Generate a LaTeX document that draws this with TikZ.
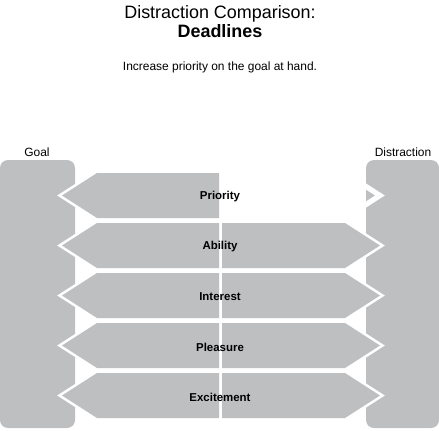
\documentclass[tikz,border=0pt]{standalone}
\usepackage{fontspec}
\setmainfont{Liberation Sans}
\definecolor{boxgray}{RGB}{190,191,193}
\begin{document}
\begin{tikzpicture}[x=1bp,y=-1bp,
  sidebox/.style={fill=boxgray, rounded corners=8bp},
  halo/.style={draw=white, line width=5.2bp, line join=miter},
  arrowfill/.style={fill=boxgray},
  rowlbl/.style={font=\bfseries\fontsize{11.5}{13}\selectfont, inner sep=0pt},
  sidelbl/.style={font=\fontsize{12}{14}\selectfont, inner sep=0pt, anchor=base},
  titlelbl/.style={font=\fontsize{18}{21}\selectfont, inner sep=0pt, anchor=base}]
\useasboundingbox (0,0) rectangle (439,430);
% titles
\node[titlelbl] (title) at (220,18) {Distraction Comparison:};
\node[titlelbl, font=\bfseries\fontsize{18}{21}\selectfont] (sub) at (220,37) {Deadlines};
\node[sidelbl] (note) at (220,70) {Increase priority on the goal at hand.};
% side boxes
\fill[sidebox] (0,160) rectangle (75,428);
\fill[sidebox] (366,160) rectangle (439,428);
\node[sidelbl] (goal) at (37,156.5) {Goal};
\node[sidelbl] (distr) at (403,156.5) {Distraction};
% white gaps around the arrows
\foreach \i in {0,...,4}{
  \pgfmathsetmacro\t{173+50*\i}
  \pgfmathsetmacro\b{\t+45}
  \pgfmathsetmacro\m{\t+22.5}
  \draw[halo] (62,\m) -- (97,\t) -- (219,\t) -- (219,\b) -- (97,\b) -- cycle;
  \draw[halo] (222,\t) -- (345,\t) -- (380,\m) -- (345,\b) -- (222,\b) -- cycle;
}
% arrow fills
\foreach \i in {0,...,4}{
  \pgfmathsetmacro\t{173+50*\i}
  \pgfmathsetmacro\b{\t+45}
  \pgfmathsetmacro\m{\t+22.5}
  \fill[arrowfill] (62,\m) -- (97,\t) -- (219,\t) -- (219,\b) -- (97,\b) -- cycle;
  \ifnum\i>0
  \fill[arrowfill] (222,\t) -- (345,\t) -- (380,\m) -- (345,\b) -- (222,\b) -- cycle;
  \fi
}
% labels
\node[rowlbl] (lpri) at (220,197) {Priority};
\node[rowlbl] (labi) at (220,247) {Ability};
\node[rowlbl] (lint) at (220,297) {Interest};
\node[rowlbl] (lple) at (220,347) {Pleasure};
\node[rowlbl] (lexc) at (220,397) {Excitement};
\end{tikzpicture}
\end{document}
